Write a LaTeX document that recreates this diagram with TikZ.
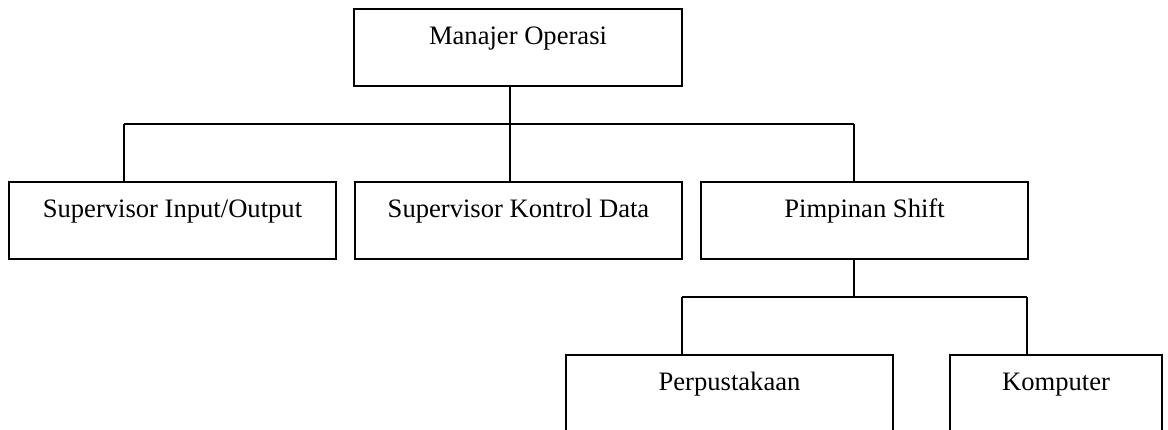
\documentclass[tikz,border=0pt]{standalone}
\usepackage{fontspec}
\setmainfont{Liberation Serif}
\usetikzlibrary{positioning,calc}

\begin{document}
\begin{tikzpicture}[
    x=0.5pt, y=-0.5pt,
    box/.style={draw, rectangle, line width=1pt, inner xsep=0pt, inner ysep=0pt,
                minimum width=163.5pt, text height=17.5pt, text depth=21pt,
                font=\fontsize{13.3}{16}\selectfont},
    conn/.style={line width=0.8pt, draw=black},
]

\clip (0,0) rectangle (1168,429);
\useasboundingbox (0,0) rectangle (1168,429);

% Top
\node[box, minimum width=164pt] (manajer) at (518, 47.5) {Manajer Operasi};

% Second level
\node[box] (supio) at (172.5, 220.5) {Supervisor Input/Output};
\node[box] (supkd) at (518.5, 220.5) {Supervisor Kontrol Data};
\node[box] (shift) at (864.5, 220.5) {Pimpinan Shift};

% Third level
\node[box] (pustaka) at (729.5, 393.5) {Perpustakaan};
\node[box, minimum width=106pt] (komputer) at (1056, 393.5) {Komputer};

% Junctions
\coordinate (ja) at (124, 124);
\coordinate (jb) at (510, 124);
\coordinate (jc) at (854, 124);
\coordinate (ka) at (682, 297);
\coordinate (kb) at (854, 297);
\coordinate (kc) at (1027, 297);

% Connectors
\draw[conn] (manajer.south -| jb) -- (jb);
\draw[conn] (ja) -- (jc);
\draw[conn] (ja) -- (supio.north -| ja);
\draw[conn] (jb) -- (supkd.north -| jb);
\draw[conn] (jc) -- (shift.north -| jc);
\draw[conn] (shift.south -| kb) -- (kb);
\draw[conn] (ka) -- (kc);
\draw[conn] (ka) -- (pustaka.north -| ka);
\draw[conn] (kc) -- (komputer.north -| kc);

\end{tikzpicture}
\end{document}
